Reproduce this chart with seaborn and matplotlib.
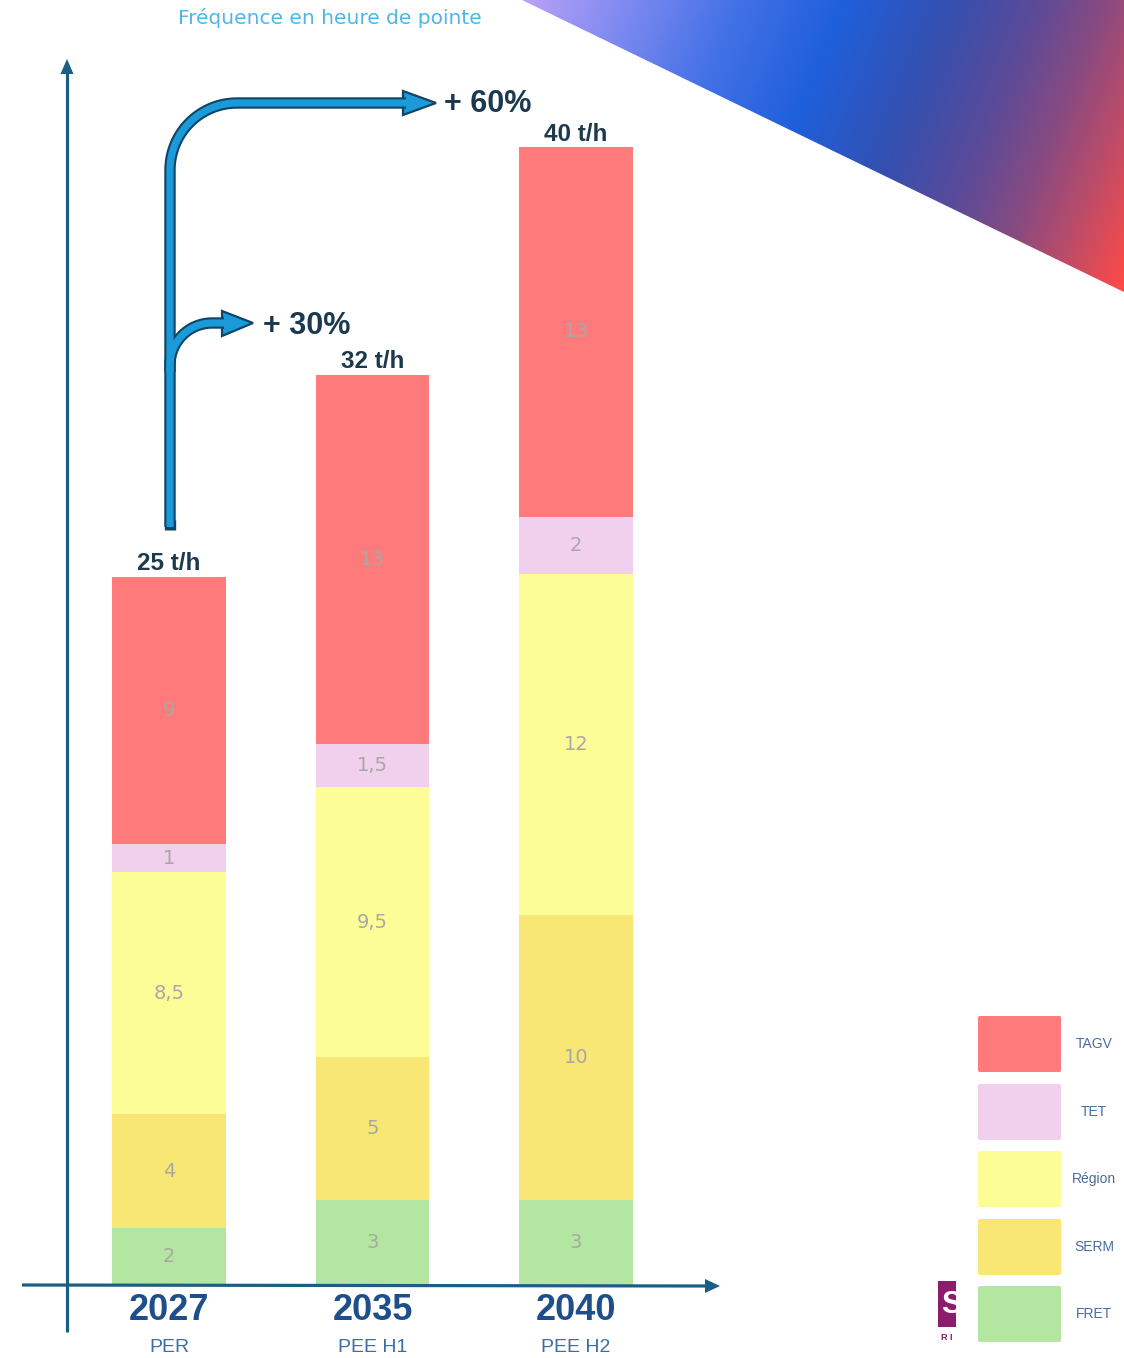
import numpy as np
import pandas as pd
import matplotlib
matplotlib.use("Agg")
import matplotlib.pyplot as plt
import seaborn as sns
from matplotlib.patches import Polygon, FancyBboxPatch, Rectangle
from matplotlib.colors import LinearSegmentedColormap

# ---------------- data ----------------
years = ["2027", "2035", "2040"]
scenarios = ["PER", "PEE H1", "PEE H2"]
series_names = ["FRET", "SERM", "Région", "TET", "TAGV"]
# bar heights as drawn in the picture
fret = [2, 3, 3]
serm = [4, 5, 10]
region = [8.5, 9.5, 12]
tet = [1, 1.5, 2]
tagv = [9.4, 13, 13]
# values printed inside the segments
fret_labels = ["2", "3", "3"]
serm_labels = ["4", "5", "10"]
region_labels = ["8,5", "9,5", "12"]
tet_labels = ["1", "1,5", "2"]
tagv_labels = ["9", "13", "13"]
total_labels = ["25 t/h", "32 t/h", "40 t/h"]
growth_labels = ["+ 30%", "+ 60%"]
title = "Fréquence en heure de pointe"

colors = {"FRET": "#b3e6a0", "SERM": "#f8e775", "Région": "#fdfd98",
          "TET": "#f0d0ec", "TAGV": "#ff7b7b"}

# ---------------- figure ----------------
W, H = 1124, 1358
sns.set_theme(style="white")
plt.rcParams["font.family"] = ["DejaVu Sans"]
fig = plt.figure(figsize=(W / 100, H / 100), dpi=100)
fig.patch.set_facecolor("white")

X0, DX = 169.0, 203.5     # centre of first bar, spacing (px)
Y0, DY = 1285.0, 28.45    # baseline (px), pixels per unit

ax = fig.add_axes([0, 0, 1, 1])
bottom = np.zeros(len(years))
for name, vals, labs in zip(series_names,
                            [fret, serm, region, tet, tagv],
                            [fret_labels, serm_labels, region_labels, tet_labels, tagv_labels]):
    d = pd.DataFrame({"year": years, "value": vals})
    sns.barplot(data=d, x="year", y="value", order=years, bottom=bottom.copy(),
                color=colors[name], saturation=1, width=0.56, errorbar=None,
                linewidth=0, ax=ax)
    for i, v in enumerate(vals):
        ax.text(i, bottom[i] + v / 2, labs[i],
                ha="center", va="center", fontsize=14, color="#a8a8a8",
                family="DejaVu Sans")
    bottom = bottom + np.array(vals, dtype=float)

for i, t in enumerate(bottom):
    ax.annotate(total_labels[i], (i, t), xytext=(0, 4.5), textcoords="offset points",
                ha="center", va="baseline", fontsize=17.5, fontweight="bold",
                family="Liberation Sans", color="#1c3a4c")

for i in range(len(years)):
    ax.text(i, -(1310 - Y0) / DY, years[i], ha="center", va="center",
            fontsize=26, fontweight="bold", family="Liberation Sans", color="#1f4f8a")
    ax.text(i, -(1348 - Y0) / DY, scenarios[i], ha="center", va="center",
            fontsize=14, family="Liberation Sans", color="#3b6ea5")

ax.set_xlim(-X0 / DX, (W - X0) / DX)
ax.set_ylim(-(H - Y0) / DY, Y0 / DY)
ax.axis("off")

# ---------------- overlay (decorations in pixel space) ----------------
ax2 = fig.add_axes([0, 0, 1, 1])

# gradient triangle top-right
gx = np.linspace(522, W, 400)
gy = np.linspace(0, 292, 200)
GX, GY = np.meshgrid(gx, gy)
T = ((GX - 522) + 0.4 * GY) / (602 + 0.4 * 292)
cmap = LinearSegmentedColormap.from_list("g", [
    (0.0, "#b9a2f8"), (0.15, "#7d89f0"), (0.3, "#4371e6"), (0.45, "#1f5fdb"),
    (0.6, "#3550b0"), (0.72, "#5b4a98"), (0.82, "#8a4a80"), (0.91, "#c24c66"),
    (1.0, "#ff4a45")])
im = ax2.imshow(T, extent=(522, W, 292, 0), cmap=cmap, vmin=0, vmax=1,
                aspect="auto", interpolation="bilinear")
tri = Polygon([(522, 0), (W, 0), (W, 292)], closed=True, facecolor="none",
              edgecolor="none", transform=ax2.transData)
ax2.add_patch(tri)
im.set_clip_path(tri)

# axes lines
axis_c = "#1b5e83"
ax2.plot([67, 67], [1332, 70], color=axis_c, lw=2.3, solid_capstyle="butt")
ax2.add_patch(Polygon([(60.5, 74), (67, 59), (73.5, 74)], closed=True,
                      facecolor=axis_c, edgecolor="none"))
ax2.plot([22, 708], [1285, 1286], color=axis_c, lw=2.3, solid_capstyle="butt")
ax2.add_patch(Polygon([(705, 1279), (720, 1286), (705, 1293)], closed=True,
                      facecolor=axis_c, edgecolor="none"))


def arc(cx, cy, r, a0, a1, n=40):
    a = np.radians(np.linspace(a0, a1, n))
    return list(cx + r * np.cos(a)), list(cy + r * np.sin(a))


ax_b, ay_b = arc(237, 170, 67, 180, 270)
big_x = [170] + ax_b + [406]
big_y = [527] + ay_b + [103]
as_x, as_y = arc(212, 365, 42, 180, 270)
sm_x = [170] + as_x + [224]
sm_y = [372] + as_y + [323]

dark = "#0f4566"
blue = "#1a9ad8"
ax2.plot([170, 170], [529.5, 520], color=dark, lw=8.2, solid_capstyle="butt")
for xs, ys in [(big_x, big_y), (sm_x, sm_y)]:
    ax2.plot(xs, ys, color=dark, lw=8.2, solid_capstyle="butt", solid_joinstyle="round")
for xs, ys in [(big_x, big_y), (sm_x, sm_y)]:
    ax2.plot(xs, ys, color=blue, lw=5.2, solid_capstyle="butt", solid_joinstyle="round")
ax2.add_patch(Polygon([(403, 91), (436, 103), (403, 115)], closed=True,
                      facecolor=blue, edgecolor=dark, lw=1.6, joinstyle="miter"))
ax2.add_patch(Polygon([(222, 311), (253, 323), (222, 336)], closed=True,
                      facecolor=blue, edgecolor=dark, lw=1.6, joinstyle="miter"))

ax2.text(444, 104, growth_labels[1], ha="left", va="center", fontsize=22,
         fontweight="bold", family="Liberation Sans", color="#1c3a4f")
ax2.text(263, 326, growth_labels[0], ha="left", va="center", fontsize=22,
         fontweight="bold", family="Liberation Sans", color="#1c3a4f")

ax2.text(330, 18, title, ha="center", va="center", fontsize=14.5,
         color="#4fb6e6", family="DejaVu Sans")

# legend
leg_tops = [1015, 1083, 1150, 1218, 1285]
for name, top in zip(["TAGV", "TET", "Région", "SERM", "FRET"], leg_tops):
    ax2.add_patch(FancyBboxPatch((978, top + 1), 83, 56,
                                 boxstyle="round,pad=0,rounding_size=2",
                                 facecolor=colors[name], edgecolor="none"))
    ax2.text(1094, top + 29, name, ha="center", va="center", fontsize=10,
             family="Liberation Sans", color="#4b6c9c")

# partial logo
logo = Rectangle((938, 1281), 18, 46, facecolor="#8c1c6c", edgecolor="none")
ax2.add_patch(logo)
s = ax2.text(951, 1305, "S", ha="center", va="center", fontsize=22,
             fontweight="bold", color="white", family="Liberation Sans")
s.set_clip_path(logo)
ax2.text(947, 1337, "R I", ha="center", va="center", fontsize=6.5,
         fontweight="bold", color="#8c1c6c", family="Liberation Sans")

ax2.set_xlim(0, W)
ax2.set_ylim(H, 0)
ax2.axis("off")

fig.savefig("out.png", dpi=100, facecolor="white")
